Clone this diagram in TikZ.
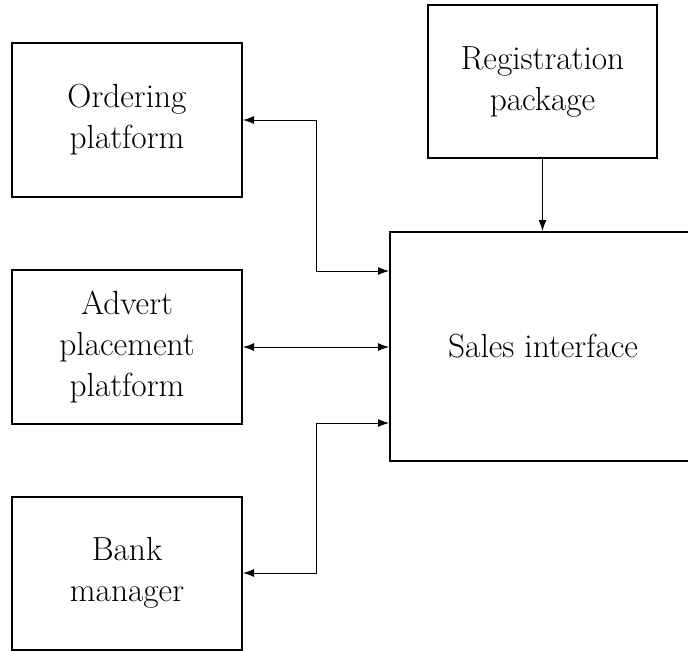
\documentclass[tikz,border=0pt]{standalone}
\usetikzlibrary{arrows.meta}
\begin{document}
\begin{tikzpicture}[x=0.5pt,y=-0.5pt,
  box/.style={draw,line width=1pt,align=center,inner sep=0pt,font=\fontsize{16.7}{20.5}\selectfont},
  conn/.style={line width=0.5pt,{Latex[length=5.5pt,width=4pt]}-{Latex[length=5.5pt,width=4pt]}},
  conn1/.style={line width=0.5pt,-{Latex[length=5.5pt,width=4pt]}}]
\useasboundingbox (0,0) rectangle (688,650);
\node[box,minimum width=115pt,minimum height=77pt] (ord) at (127,120) {Ordering\\platform};
\node[box,minimum width=115pt,minimum height=77pt] (adv) at (127,347) {Advert\\placement\\platform};
\node[box,minimum width=115pt,minimum height=76.5pt] (bank) at (127,573) {Bank\\manager};
\node[box,minimum width=114.5pt,minimum height=76.5pt] (reg) at (542.5,81.5) {Registration\\package};
\node[box,minimum width=153pt,minimum height=114.5pt] (sales) at (543,346.5) {Sales interface};
\coordinate (j) at (316,0);
\coordinate (s1) at (sales.west |- 0,271);
\coordinate (s3) at (sales.west |- 0,423);
\coordinate (rs) at (sales.north -| reg.south);
\draw[conn] (ord.east) -- (ord.east -| j) -- (j |- s1) -- (s1);
\draw[conn] (adv.east) -- (adv.east -| sales.west);
\draw[conn] (bank.east) -- (bank.east -| j) -- (j |- s3) -- (s3);
\draw[conn1] (reg.south) -- (rs);
\end{tikzpicture}
\end{document}
